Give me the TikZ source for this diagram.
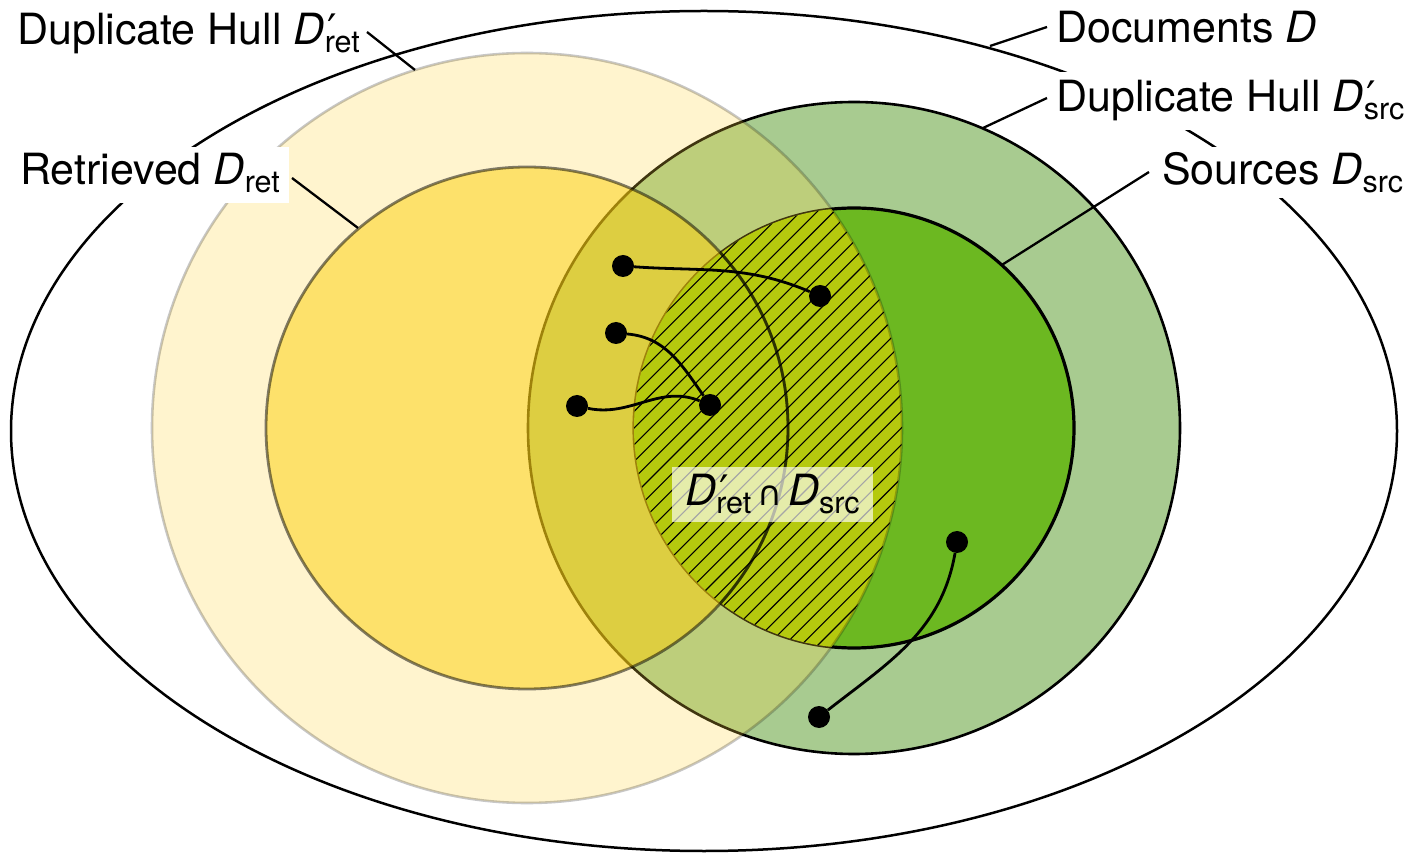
\documentclass[tikz,border=0pt]{standalone}
\usepackage{fontspec}
\setmainfont{TeX Gyre Heros}
\newfontfamily\symfont{DejaVu Sans}
\usetikzlibrary{calc}

\definecolor{hullgreen}{HTML}{A8CB90}
\definecolor{srcgreen}{HTML}{6CB821}
\definecolor{hullyellow}{RGB}{255,215,63}
\definecolor{retyellow}{RGB}{253,207,9}
\definecolor{overlapfill}{HTML}{B5C90E}

\newcommand\mainsize{\fontsize{43}{51}\selectfont}
\newcommand\subsize{\fontsize{30.5}{36}\selectfont}
% D with an upright subscript, optionally primed
\newcommand\Dsub[1]{\textit{D}\raisebox{-8pt}{\subsize #1}}
\newcommand\Dprm[1]{\textit{D}\makebox[0pt][l]{\hspace{3pt}{\symfont\fontsize{42}{44}\selectfont ′}}\raisebox{-8pt}{\subsize #1}}
\newcommand\capsym{{\symfont\fontsize{34}{40}\selectfont ∩}}

\begin{document}
\begin{tikzpicture}[x=1pt,y=1pt,
  lbl/.style={font=\mainsize, inner sep=0pt, anchor=base west},
  lblbox/.style={lbl, fill=white, inner xsep=9pt, inner ysep=0pt},
  leader/.style={line width=2.3pt},
  link/.style={line width=2.8pt},
  dot/.style={circle, fill=black, inner sep=0pt, minimum size=22pt},
  hatchline/.style={line width=1.1pt},
  rim/.style={line width=2.6pt}
]
\useasboundingbox (0,0) rectangle (1411,855);

% documents
\draw[line width=2.5pt, fill=white] (704,424) ellipse [x radius=693pt, y radius=420pt];

% sources and their duplicate hull
\filldraw[rim, fill=hullgreen] (854,427) circle[radius=326pt];
\filldraw[line width=3.2pt, fill=srcgreen] (854,427) circle[radius=220pt];

% retrieved documents and their duplicate hull (translucent)
\fill[hullyellow, fill opacity=.25] (527,427) circle[radius=375pt];
\fill[retyellow, fill opacity=.5] (527,427) circle[radius=261pt];

% overlap of retrieval hull and sources, hatched
\begin{scope}
  \clip (854,427) circle[radius=220pt];
  \clip (527,427) circle[radius=375pt];
  \fill[overlapfill] (0,0) rectangle (1411,855);
  \foreach \k in {0,...,52} \draw[hatchline] ({-60+16.7*\k},0) -- ++(900,900);
  \draw[draw opacity=.5, line width=2.8pt] (527,427) circle[radius=261pt];
\end{scope}

\draw[rim, draw opacity=.22] (527,427) circle[radius=375pt];
\draw[line width=2.8pt, draw opacity=.5] (527,427) circle[radius=261pt];

% labels
\node[lbl] (lblHullRet) at (17,810) {Duplicate Hull \Dprm{ret}};
\node[lblbox, text height=38pt, text depth=18pt] (lblRet) at (11,670) {Retrieved \Dsub{ret}};
\node[lbl] (lblDocs) at (1056,812) {Documents \textit{D}};
\node[lblbox, text height=40pt, text depth=18pt] (lblHullSrc) at (1047,743) {Duplicate Hull \Dprm{src}};
\node[lblbox, text height=38pt, text depth=13pt] (lblSrc) at (1153,670) {Sources \Dsub{src}};

% leader lines
\coordinate (tHullRet) at (367,823);  \coordinate (pHullRet) at (415,785);
\coordinate (tRet) at (292,677);      \coordinate (pRet) at (358,627);
\coordinate (tDocs) at (1047,828);    \coordinate (pDocs) at (990,809);
\coordinate (tHullSrc) at (1047,757); \coordinate (pHullSrc) at (983,727);
\coordinate (tSrc) at (1149,683);     \coordinate (pSrc) at (1001.6,589.9);
\draw[leader] (tHullRet) -- (pHullRet);
\draw[leader] (tRet) -- (pRet);
\draw[leader] (tDocs) -- (pDocs);
\draw[leader] (tHullSrc) -- (pHullSrc);
\draw[leader] (tSrc) -- (pSrc);

% duplicate links between documents
\node[dot] (d1) at (623,589) {};
\node[dot] (d2) at (820,559) {};
\node[dot] (d3) at (616,522) {};
\node[dot] (d4) at (710,450) {};
\node[dot] (d5) at (577,449) {};
\node[dot] (d6) at (957,313) {};
\node[dot] (d7) at (819,138) {};
\draw[link] (d1) to[out=-4, in=157] (d2);
\draw[link] (d3) to[out=-5, in=125] (d4);
\draw[link] (d5) to[out=-12, in=158] (d4);
\draw[link] (d6) to[out=-100, in=38] (d7);

% intersection label
\node[font=\mainsize, fill=white, fill opacity=.65, text opacity=1,
      minimum width=201pt, minimum height=55pt, inner sep=0pt] (lblCap)
  at (772.5,360.5) {\Dprm{ret}\hspace{6pt}\capsym\hspace{6pt}\Dsub{src}};
\end{tikzpicture}
\end{document}
